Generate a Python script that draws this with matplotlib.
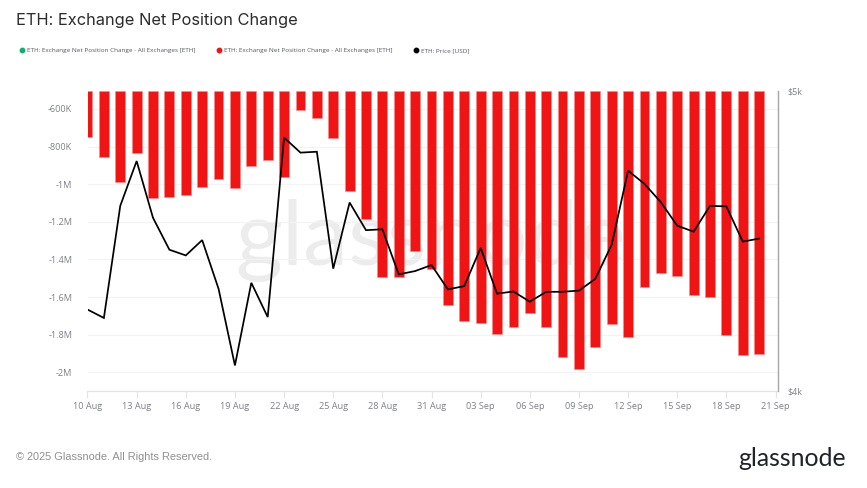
import matplotlib
matplotlib.use('Agg')
import matplotlib.pyplot as plt
import matplotlib.dates as mdates
from matplotlib.lines import Line2D
import pandas as pd

W, H = 867, 488

dates = pd.date_range('2025-08-10', periods=42, freq='D')

# net position change, ETH
net_change = [-751000, -854000, -987000, -834000, -1073000, -1068000, -1059000,
              -1015000, -971000, -1020000, -902000, -870000, -960000, -604000,
              -649000, -754000, -1038000, -1187000, -1492000, -1491000, -1355000,
              -1451000, -1641000, -1726000, -1738000, -1797000, -1758000, -1687000,
              -1758000, -1921000, -1985000, -1864000, -1745000, -1814000, -1547000,
              -1474000, -1488000, -1591000, -1600000, -1802000, -1909000, -1903000]

# ETH price, USD
price = [4272, 4244, 4617, 4766, 4577, 4471, 4452, 4503, 4341, 4086, 4361, 4247,
         4844, 4794, 4797, 4408, 4628, 4536, 4539, 4389, 4400, 4420, 4339, 4350,
         4477, 4325, 4332, 4298, 4331, 4331, 4335, 4374, 4488, 4734, 4690, 4629,
         4551, 4531, 4617, 4615, 4498, 4508]

y_ticks = [-600000, -800000, -1000000, -1200000, -1400000, -1600000, -1800000, -2000000]
y_labels = ['-600K', '-800K', '-1M', '-1.2M', '-1.4M', '-1.6M', '-1.8M', '-2M']
legend_labels = ['ETH: Exchange Net Position Change - All Exchanges [ETH]',
                 'ETH: Exchange Net Position Change - All Exchanges [ETH]',
                 'ETH: Price [USD]']
legend_colors = ['#0ab26b', '#f01414', '#000000']
legend_x = [22, 219, 416]

plt.rcParams['font.family'] = ['Open Sans', 'DejaVu Sans']
GREY = '#7d8087'

fig = plt.figure(figsize=(W / 100, H / 100), dpi=100)
ax = fig.add_axes([87.5 / W, 1 - 391.3 / H, 690 / W, 300.6 / H])

y_top = -503000
y_bottom = -2101000

ax.bar(dates, [v - y_top for v in net_change], bottom=y_top, width=0.6,
       color='#f01414', edgecolor='#f78a8a', linewidth=0.4, zorder=2)

ax.set_xlim(dates[0], dates[0] + pd.Timedelta(days=42.12))
ax.set_ylim(y_bottom, y_top)
ax.set_yticks(y_ticks)
ax.set_yticklabels(y_labels)
ax.set_xticks(pd.date_range(dates[0], periods=15, freq='3D'))
ax.xaxis.set_major_formatter(mdates.DateFormatter('%d %b'))
ax.grid(axis='y', color='#f3f3f3', linewidth=0.9, zorder=1)
ax.set_axisbelow(True)
ax.tick_params(axis='y', length=0, pad=11, labelsize=6.6, labelcolor=GREY)
ax.tick_params(axis='x', length=5, width=0.8, color='#e4e4e4', pad=3,
               labelsize=6.6, labelcolor=GREY)
for side in ['top', 'left', 'right']:
    ax.spines[side].set_visible(False)
ax.spines['bottom'].set_color('#e4e4e4')
ax.spines['bottom'].set_linewidth(0.9)

# watermark, sits behind the bars
ax.text(431 / W, 1 - 241 / H, 'glassnode', transform=fig.transFigure, ha='center',
        va='center', fontsize=65, color='#ececec', family='Lato', zorder=0, clip_on=False)

ax2 = ax.twinx()
ax2.plot(dates, price, color='#000000', linewidth=1.25, solid_joinstyle='miter', zorder=3)
ax2.set_ylim(4000, 5000)
ax2.set_yticks([4000, 5000])
ax2.set_yticklabels(['$4k', '$5k'])
ax2.tick_params(axis='y', length=0, pad=7, labelsize=6.4, labelcolor=GREY)
for side in ['top', 'left', 'bottom']:
    ax2.spines[side].set_visible(False)
ax2.spines['right'].set_color('#a6a6a6')
ax2.spines['right'].set_linewidth(1.0)

fig.text(16 / W, 1 - 21 / H, 'ETH: Exchange Net Position Change', fontsize=11.8,
         color='#2b2b2b', family='Inter', va='center')

for x, label, color in zip(legend_x, legend_labels, legend_colors):
    fig.add_artist(Line2D([x / W], [1 - 50 / H], marker='o', markersize=3.2, color=color,
                          linestyle='none', transform=fig.transFigure))
    fig.text((x + 5) / W, 1 - 52 / H, label, fontsize=4.55, color='#55585e', va='baseline')

fig.text(16 / W, 1 - 457 / H, '\u00a9 2025 Glassnode. All Rights Reserved.', fontsize=7.9,
         color='#8f8f8f', family='Liberation Sans', va='center')
fig.text(846 / W, 1 - 458 / H, 'glassnode', fontsize=17.8, color='#1f2326', family='Lato',
         ha='right', va='center')

fig.savefig('out.png', dpi=100)
